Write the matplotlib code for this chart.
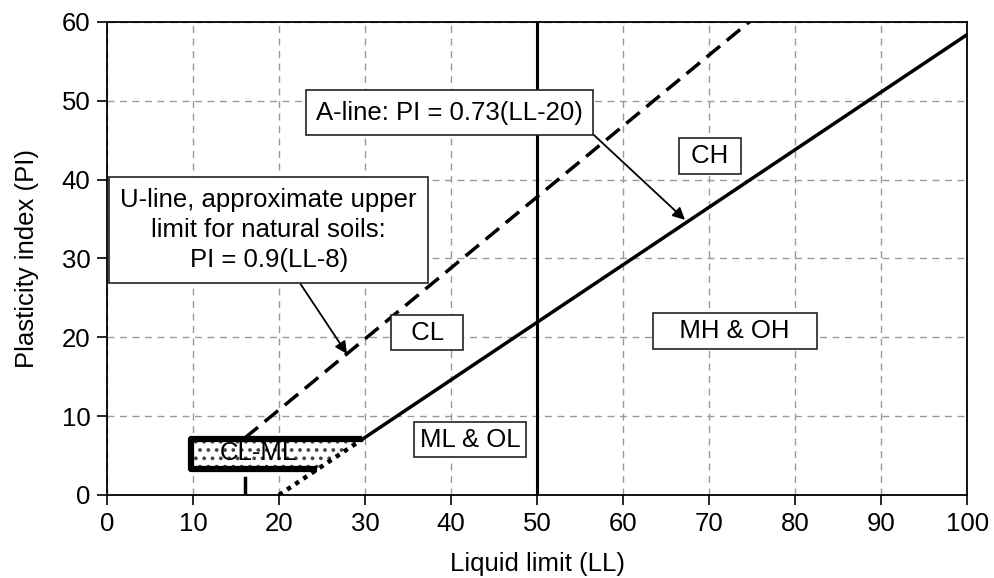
import matplotlib.pyplot as plt
import numpy as np

plt.rcParams['font.family'] = ['Liberation Sans', 'DejaVu Sans']
plt.rcParams['hatch.linewidth'] = 1.5

# Datos del gráfico de plasticidad
ll_ticks = [0, 10, 20, 30, 40, 50, 60, 70, 80, 90, 100]
pi_ticks = [0, 10, 20, 30, 40, 50, 60]

# Línea A: PI = 0.73(LL-20)
a_ll_solid = [29.7, 100]
a_ll_dotted = [20, 29.7]
# Línea U: PI = 0.9(LL-8)
u_ll = [16, 74.7]
u_stub_ll = [16, 16]
u_stub_pi = [0, 2.2]

# Zona CL-ML
clml_ll = [9.8, 29.7, 24.4, 9.8]
clml_pi = [7.1, 7.1, 3.3, 3.3]

# Etiquetas de zonas: (texto, LL, PI)
zonas = [('  CL  ', 37.2, 20.6), (' CH ', 70.1, 43.0),
         ('   MH & OH   ', 73.0, 20.8), ('ML & OL', 42.2, 7.0)]

fs = 18.5


def a_line(ll):
    return 0.73 * (np.array(ll) - 20)


def u_line(ll):
    return 0.9 * (np.array(ll) - 8)


fig = plt.figure(figsize=(9.95, 5.78), dpi=100)
ax = fig.add_axes([0.1075, 0.1436, 0.8645, 0.8184])

ax.set_xlim(0, 100)
ax.set_ylim(0, 60)
ax.set_xticks(ll_ticks)
ax.set_yticks(pi_ticks)
ax.tick_params(axis='both', direction='out', length=7, width=1.2, labelsize=fs, pad=5)
for s in ax.spines.values():
    s.set_linewidth(1.3)
ax.grid(True, linestyle=(0, (5, 4)), color='#999999', linewidth=1)

# Zona CL-ML con puntos
ax.fill(clml_ll, clml_pi, facecolor='white', hatch='..', edgecolor='#444444', linewidth=0, zorder=2)
ax.plot([clml_ll[1], clml_ll[0], clml_ll[3], clml_ll[2]],
        [clml_pi[1], clml_pi[0], clml_pi[3], clml_pi[2]],
        color='black', linewidth=4.5, solid_capstyle='butt', zorder=3)
ax.text(17.6, 5.3, 'CL-ML', fontsize=fs, ha='center', va='center', zorder=4)

# Líneas
ax.plot([50, 50], [0, 60], color='black', linewidth=2.2, zorder=3)
ax.plot(a_ll_solid, a_line(a_ll_solid), color='black', linewidth=2.5, zorder=3)
ax.plot(a_ll_dotted, a_line(a_ll_dotted), color='black', linewidth=3.2,
        linestyle=(0, (1, 1.2)), zorder=3)
ax.plot(u_ll, u_line(u_ll), color='black', linewidth=2.5,
        linestyle=(0, (5, 2.5)), zorder=3)
ax.plot(u_stub_ll, u_stub_pi, color='black', linewidth=2.5, zorder=3)

caja = dict(boxstyle='square,pad=0.22', facecolor='white', edgecolor='#222222', linewidth=1.2)
caja_a = dict(caja, boxstyle='square,pad=0.4')
caja_u = dict(caja, boxstyle='square,pad=0.45')
flecha = dict(arrowstyle='-|>', color='black', lw=1.3, mutation_scale=18,
              shrinkA=0, shrinkB=0)

ax.annotate('A-line: PI = 0.73(LL-20)', xy=(67.2, 34.9), xytext=(39.8, 48.5),
            fontsize=fs, ha='center', va='center', bbox=caja_a, zorder=5,
            arrowprops=dict(flecha, relpos=(1.0, 0.0)))
ax.annotate('U-line, approximate upper\nlimit for natural soils:\nPI = 0.9(LL-8)',
            xy=(27.9, 17.9), xytext=(18.8, 33.6),
            fontsize=fs, ha='center', va='center', bbox=caja_u, zorder=5,
            linespacing=1.3,
            arrowprops=dict(flecha, relpos=(0.58, 0.0)))

for nombre, x, y in zonas:
    ax.text(x, y, nombre, fontsize=fs, ha='center', va='center', bbox=caja, zorder=5)

ax.set_xlabel('Liquid limit (LL)', fontsize=fs, labelpad=12)
ax.set_ylabel('Plasticity index (PI)', fontsize=fs, labelpad=16)

fig.savefig('out.png', dpi=100)
